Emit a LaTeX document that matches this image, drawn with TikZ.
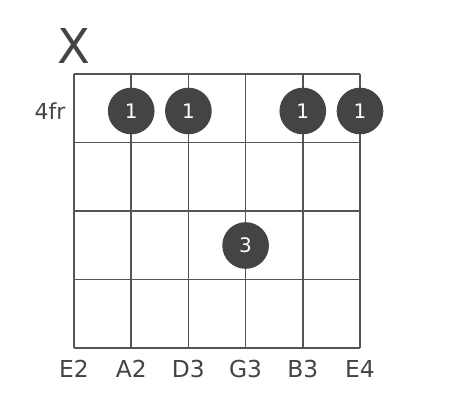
\documentclass[tikz,border=0pt]{standalone}
\usepackage{fontspec}
\setmainfont{DejaVu Sans}
\definecolor{ink}{HTML}{444444}
\definecolor{gridc}{HTML}{555555}
\begin{document}
\begin{tikzpicture}[x=0.75pt,y=-0.75pt,
  gridline/.style={draw=gridc,line width=1.3pt},
  fingerdot/.style={circle,fill=ink,minimum size=35pt,inner sep=0pt,text=white,font=\fontsize{15}{15}\selectfont},
  strlabel/.style={text=ink,font=\fontsize{17.5}{17.5}\selectfont},
  fretlabel/.style={text=ink,font=\fontsize{16.5}{16.5}\selectfont},
  mutelabel/.style={text=ink,font=\fontsize{36}{36}\selectfont}]
\useasboundingbox (0,0) rectangle (457,400);
% grid
\foreach \i in {0,...,5} {
  \draw[gridline] ({74+\i*57.2},74) -- ({74+\i*57.2},348);
}
\foreach \j in {0,...,4} {
  \draw[gridline] (74,{74+\j*68.5}) -- (360,{74+\j*68.5});
}
% labels
\node[mutelabel] (mute) at (74,46) {X};
\node[fretlabel] (fr) at (50,111) {4fr};
\node[strlabel] (s1) at (74,369) {E2};
\node[strlabel] (s2) at (131.2,369) {A2};
\node[strlabel] (s3) at (188.4,369) {D3};
\node[strlabel] (s4) at (245.6,369) {G3};
\node[strlabel] (s5) at (302.8,369) {B3};
\node[strlabel] (s6) at (360,369) {E4};
% dots
\node[fingerdot] (d2) at (131.2,111) {1};
\node[fingerdot] (d3) at (188.4,111) {1};
\node[fingerdot] (d5) at (302.8,111) {1};
\node[fingerdot] (d6) at (360,111) {1};
\node[fingerdot] (d4) at (245.6,245.5) {3};
\end{tikzpicture}
\end{document}
